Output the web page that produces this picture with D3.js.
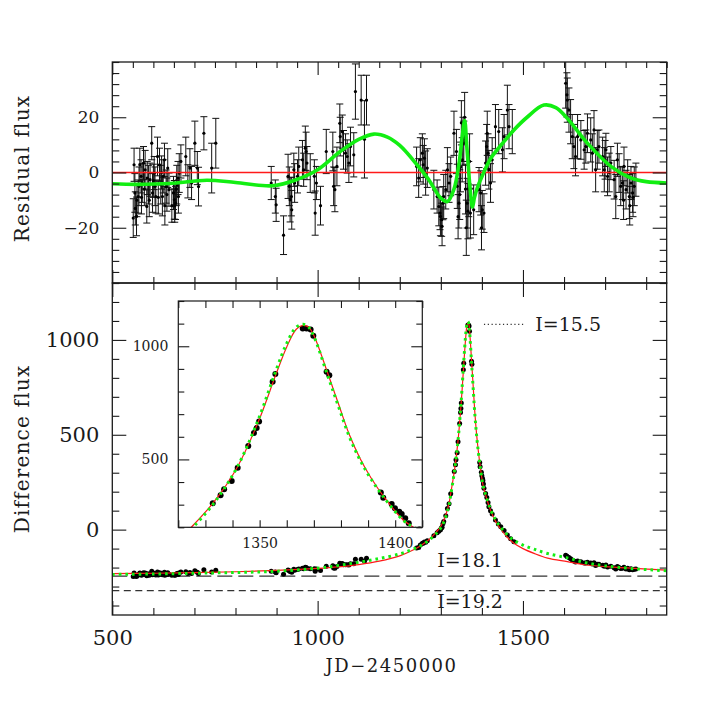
<!DOCTYPE html>
<html><head><meta charset="utf-8">
<script src="https://cdn.jsdelivr.net/npm/d3@7"></script>
<style>
body{margin:0;background:#fff}
svg text{font-family:"DejaVu Serif",serif;fill:#1a1a1a}
</style>
</head><body>
<svg id="chart" width="727" height="727"></svg>
<script>
// ---------------- DATA ----------------
// Residual flux observations: [JD-2450000, residual, error]
const residuals = [
[551,-16.5,7],[553,2.8,6],[555,-7.4,7],[556,-13,6],[559,-15.9,7],[560,-10,6],[563,-8.7,6],[565,-5,7],[567,2.8,6],[570,-1.4,6],
[571,-9,6],[573,-3.8,7],[576,3.4,6],[578,-6,6],[580,1.0,7],[584,-12.3,6],[585,-2,6],[588,-4.4,7],[590,-10,6],[592,-2.6,6],
[596,10.6,6],[598,-7.4,7],[600,-3,6],[602,-0.2,6],[604,-5,7],[606,-8.7,6],[610,5.8,7],[612,-9,6],[615,2.8,6],[618,-4.4,7],
[620,0,6],[622,-8.7,7],[624,-1.4,6],[627,4.6,6],[628,-12,7],[631,-5.1,6],[633,-8,6],[635,1.6,7],[638,-6.2,6],[645,-12,6],
[649,-7.4,6],[651,-9.9,7],[652,-12,6],[654,-11,6],[656,-6,6],[657,-4.4,7],[660,-2,6],[661,-8.7,6],[663,-0.2,7],[667,4.0,6],
[679,5.8,7],[684,-3.2,6],[689,1.6,7],[693,-3.8,6],[701,10.6,8],[707,1.6,6],[710,-5.1,7],[723,14.2,6],[742,1.6,9],[752,10.6,9],
[887,-3.8,6],[897,-8.7,6],[899,-11.7,6],[917,-22.7,7],[928,-1.4,8],[931,-5,7],[933,-9.9,8],[936,-8.7,7],[937,-13.5,7],[942,1,6],
[944,-3.8,7],[951,-1.4,6],[954,2.2,7],[963,4.6,7],[966,1,6],[970,8.8,8],[972,7.6,7],[974,3.4,6],[982,-0.2,7],[992,-1.4,6],
[994,-14.7,8],[997,-3.8,6],[1007,-12,7],[1021,7.6,8],[1037,7.6,7],[1039,-5,7],[1042,-6.2,8],[1047,2.2,7],[1054,17.8,7],[1055,13,7],
[1060,14.8,6],[1063,8.2,7],[1068,7,7],[1072,5.8,6],[1076,3.4,7],[1080,9.4,7],[1088,6.4,8],[1092,29.3,10],[1106,26.2,9],[1114,12,14],[1119,26.2,9],
[1241,2.2,7],[1246,-2,7],[1250,4.6,8],[1255,7,7],[1257,2.8,7],[1260,5.2,7],[1263,-0.2,8],[1267,1.6,7],[1283,-6.2,7],[1291,-8.7,6],
[1295,-12.3,7],[1298,-14.7,6],[1299,-15.9,7],[1302,-17.1,6],[1303,-19.5,7],[1305,-11.1,6],[1307,-8.7,8],[1312,-6.2,7],[1316,1,8],[1320,-3.8,7],
[1324,-1.4,7],[1332,14.2,8],[1338,7.6,8],[1340,-5,8],[1342,-16,8],[1344,-11.1,9],[1346,-8,9],[1348,2,9],[1350,18,8],[1352,4.6,8],
[1354,12,8],[1356,10.6,8],[1358,20,9],[1360,-6,9],[1362,-20,10],[1364,-11.1,9],[1366,-14,10],[1368,-6,10],[1370,4,10],[1372,-14.7,9],
[1380,-13.5,9],[1393,-6.2,8],[1397,-7.4,8],[1399,-20,8],[1401,-13.5,7],[1405,-14.7,7],[1409,3.4,8],[1411.5,9.4,8],[1413,14.2,8],[1415,7,7],
[1417,1,7],[1421,-3.8,7],[1425,4.6,8],[1433,16.6,8],[1441,14.8,8],[1450,8.2,8],[1454,13,8],[1462,22.6,9],[1466,16.6,8],[1474,14.8,8],
[1604,32.3,9],[1607,28.1,8],[1608,26.2,8],[1612,22.6,8],[1616,18.4,8],[1620,13,8],[1624,9.4,8],[1628,5.8,7],[1633,13,8],[1641,11.8,7],
[1649,8.2,7],[1653,9.4,6],[1657,14.2,7],[1665,11.8,8],[1669,7,7],[1673,15.4,7],[1677,1,8],[1681,8.2,7],[1685,9.4,6],[1694,5.8,7],
[1698,1,8],[1700,4.6,7],[1702,8.2,6],[1706,-1.4,7],[1710,0,7],[1714,3.4,6],[1722,-2.6,7],[1726,-8.7,8],[1730,4.6,6],[1734,-0.2,7],
[1738,-5,7],[1742,-3.8,6],[1745,-10,7],[1746,2.2,7],[1751,-6.2,7],[1755,-1.4,6],[1759,-8.7,8],[1760,-12,7],[1763,-3.8,6],[1767,-7.4,7],
[1768,-9,7],[1771,-5,7],[1775,-2.6,6]
];

// Difference flux observations: [JD-2450000, flux]
const observations = [
[551,-247.5],[553,-228],[555,-238],[556,-244],[559,-247],[560,-241],[563,-239],[565,-236],[567,-228],[570,-232],
[571,-240],[573,-234],[576,-227],[578,-236],[580,-229],[584,-243],[585,-232],[588,-235],[590,-240],[592,-233],
[596,-219.5],[598,-237.5],[600,-233],[602,-230],[604,-235],[606,-238.5],[610,-224],[612,-238.6],[615,-226.7],[618,-234],
[620,-229.4],[622,-238],[624,-230.7],[627,-224.6],[628,-241],[631,-234],[633,-237],[635,-227.4],[638,-235],[645,-240.7],
[649,-236],[651,-238.4],[652,-240.4],[654,-239.4],[656,-234.3],[657,-232.7],[660,-230.2],[661,-237],[663,-228.3],[667,-224],
[679,-221.8],[684,-230.7],[689,-225.7],[693,-231],[701,-216.4],[707,-225],[710,-231.6],[723,-211.7],[742,-223.3],[752,-213.8],
[887,-219.7],[897,-223.9],[899,-226.8],[917,-235.8],[928,-213.3],[931,-216.6],[933,-221.3],[936,-219.7],[937,-224.4],[942,-209.4],
[944,-214],[951,-210.8],[954,-206.9],[963,-203.5],[966,-206.7],[970,-198.5],[972,-199.5],[974,-203.5],[982,-206.2],[992,-206.3],
[994,-219.4],[997,-208.1],[1007,-214.9],[1021,-193],[1037,-190.5],[1039,-202.8],[1042,-203.5],[1047,-194.3],[1054,-177.2],[1055,-181.8],
[1060,-178.8],[1063,-184.7],[1068,-184.7],[1072,-184.9],[1076,-186.4],[1080,-179.4],[1088,-180.5],[1092,-156.6],[1106,-155.6],[1114,-167],[1119,-151],
[1241,-96.3],[1246,-94.8],[1250,-81.4],[1255,-71.3],[1257,-72.4],[1260,-65.3],[1263,-66.1],[1267,-58.1],[1283,-32],[1291,-15.9],
[1295,-8.3],[1298,-2.3],[1299,-0.7],[1302,10.3],[1303,12.6],[1305,30.4],[1307,42.2],[1312,73.8],[1316,111],[1320,136],[1324,188.6],
[1332.7,306],[1335.6,342],[1336.9,368],[1339.7,405],[1341.9,463],[1345.8,559],[1347.9,617],[1348.9,639],[1349.8,668],[1354.8,843],
[1355.8,877],[1365.9,1078],[1367.3,1078],[1368.8,1074],[1369.8,1046],[1374.7,887],[1375.7,872],[1394.7,354],[1395.6,331],[1398.7,303],
[1399.9,284],[1401.5,269],[1402.4,259],[1403.7,240],
[1405,218],[1409,190],[1412,170],[1415,143],[1417,121],[1421,100],[1425,82],[1433,51],[1440,30],[1446,15],[1454,-5],[1462,-28],[1470,-48],[1478,-64],
[1604,-135],[1607,-140.5],[1608,-142.8],[1612,-147.5],[1616,-153.6],[1620,-160.6],[1624,-165.7],[1628,-170.8],[1633,-165.5],[1641,-169.8],
[1649,-176.4],[1653,-176.2],[1657,-172.2],[1665,-176.2],[1669,-181.8],[1673,-174.2],[1677,-189.4],[1681,-183],[1685,-182.6],[1694,-188],
[1698,-193.6],[1702,-187.1],[1706,-197.2],[1714,-193.4],[1722,-200.4],[1726,-207],[1730,-194.2],[1734,-199.5],[1738,-204.8],[1742,-204.1],
[1746,-198.6],[1751,-207.7],[1755,-203.4],[1759,-211.2],[1763,-206.8],[1767,-210.9],[1771,-209],[1775,-207.1]
];

// Model curves: JD, red (solid) model, green (dotted) model
const modelJD    = [500,600,700,800,900,1000,1050,1100,1150,1200,1230,1250,1270,1290,1300,1310,1320,1324,1333,1341.5,1349.5,1356,1360,1363.5,1366,1368,1370,1375,1379,1383,1387,1391,1396,1403,1407,1420,1433,1446,1462,1478,1500,1527,1560,1608,1650,1700,1771,1850];
const modelRed   = [-232,-230,-227,-222,-215,-204,-196,-184,-166,-138,-110,-86,-55,-10,18,65,140,190,310,460,666,875,997,1075,1092,1085,1048,885,748,612,505,420,332,232,198,108,45,2,-40,-72,-100,-125,-150,-169,-185,-195,-204,-213];
const modelGreen = [-236,-234,-230,-226,-219.5,-203,-189,-172,-152.5,-128,-105,-85,-57.5,-17.5,8.7,54.7,130.5,181.5,304.5,461,676,892,1013,1084,1097,1085,1044,874,737,603,498,415,329.5,231,198.5,113,52.5,12,-27,-56.6,-81.5,-103,-126,-149,-173,-191,-206,-217];

// Residual of the green model relative to the red model (top panel)
const residModelJD  = [500,560,640,730,800,890,950,1000,1055,1100,1137,1170,1200,1242,1270,1300,1316,1332,1345,1352,1358,1363,1368,1373,1377,1382,1390,1400,1421,1450,1478,1510,1551,1580,1608,1657,1714,1763,1800,1850];
const residModelVal = [-4.1,-4.3,-4.0,-2.8,-3.6,-4.8,-2.5,1.0,7.6,12.0,13.9,12.8,9.8,2.8,-2.5,-9.3,-10.5,-6.0,4.0,13.0,18.8,10.0,0,-8.5,-12.5,-9,-5,-1.5,5.0,10.5,15.4,20,24.4,23.5,19.6,10.6,2.2,-2.0,-3.3,-3.8];

// Magnitude reference levels
const levelNames  = ["I=15.5","I=18.1","I=19.2"];
const levelFluxes = [1082,-245,-322];
const legendSpanJD = [1405,1502];

// Axis ranges / tick labels
const xDomain = [500,1850];
const xTickLabels = [500,1000,1500];
const topYDomain = [-40,40];
const topYLabels = [-20,0,20];
const botYDomain = [-450,1300];
const botYLabels = [0,500,1000];
const insetXDomain = [1320,1410];
const insetYDomain = [200,1200];
const insetXLabels = [1350,1400];
const insetYLabels = [500,1000];

// ---------------- LAYOUT ----------------
const svg = d3.select("#chart");
const L=112.3, R=666.7, T=62, M=283, B=615;
const IL=178.3, IR=422.3, IT=301, IB=527.3;

const x = d3.scaleLinear().domain(xDomain).range([L,R]);
const yT = d3.scaleLinear().domain(topYDomain).range([M,T]);
const yB = d3.scaleLinear().domain(botYDomain).range([B,M]);
const xi = d3.scaleLinear().domain(insetXDomain).range([IL,IR]);
const yi = d3.scaleLinear().domain(insetYDomain).range([IB,IT]);

const ink = "#1a1a1a";
const RED = "#ff1a1a";
const GREEN = "#12ee12";

const defs = svg.append("defs");
defs.append("clipPath").attr("id","clipTop").append("rect").attr("x",L).attr("y",T).attr("width",R-L).attr("height",M-T);
defs.append("clipPath").attr("id","clipBot").append("rect").attr("x",L).attr("y",M).attr("width",R-L).attr("height",B-M);
defs.append("clipPath").attr("id","clipIn").append("rect").attr("x",IL).attr("y",IT).attr("width",IR-IL).attr("height",IB-IT);

function tickSet(g, axisFn, scale, vals, size){
  g.call(axisFn(scale).tickValues(vals).tickSize(size).tickFormat(""));
  g.select(".domain").remove();
  g.selectAll("line").attr("stroke",ink).attr("stroke-width",1.1);
}
function labelSet(g, axisFn, scale, vals, pad, fs){
  g.call(axisFn(scale).tickValues(vals).tickSize(0).tickPadding(pad).tickFormat(d3.format("d")));
  g.select(".domain").remove();
  g.attr("font-family",null).attr("font-size",null);
  g.selectAll("text").style("font-family",'"DejaVu Serif",serif').style("font-size",fs+"px").attr("fill",ink);
}

// ---------------- TOP PANEL ----------------
const gTop = svg.append("g").attr("clip-path","url(#clipTop)");
const eb = gTop.append("g").attr("stroke","#111").attr("stroke-width",1);
residuals.forEach(([j,r,e])=>{
  const cx = x(j);
  eb.append("line").attr("x1",cx).attr("x2",cx).attr("y1",yT(r-e)).attr("y2",yT(r+e));
  eb.append("line").attr("x1",cx-3.5).attr("x2",cx+3.5).attr("y1",yT(r-e)).attr("y2",yT(r-e));
  eb.append("line").attr("x1",cx-3.5).attr("x2",cx+3.5).attr("y1",yT(r+e)).attr("y2",yT(r+e));
});
gTop.append("g").selectAll("circle").data(residuals).join("circle")
  .attr("cx",d=>x(d[0])).attr("cy",d=>yT(d[1])).attr("r",1.6).attr("fill","#000");
gTop.append("line").attr("x1",x(xDomain[0])).attr("x2",x(xDomain[1])).attr("y1",yT(0)).attr("y2",yT(0))
  .attr("stroke",RED).attr("stroke-width",1.5);
const residLine = d3.line().x(d=>x(d[0])).y(d=>yT(d[1])).curve(d3.curveCatmullRom.alpha(0.5));
gTop.append("path").datum(residModelJD.map((j,i)=>[j,residModelVal[i]]))
  .attr("d",residLine).attr("fill","none").attr("stroke",GREEN).attr("stroke-width",3.6);

// ---------------- BOTTOM PANEL ----------------
const gBot = svg.append("g").attr("clip-path","url(#clipBot)");
// reference levels
gBot.append("line").attr("x1",x(xDomain[0])).attr("x2",x(xDomain[1])).attr("y1",yB(levelFluxes[1])).attr("y2",yB(levelFluxes[1]))
  .attr("stroke","#333").attr("stroke-width",1.2).attr("stroke-dasharray","15,6");
gBot.append("line").attr("x1",x(xDomain[0])).attr("x2",x(xDomain[1])).attr("y1",yB(levelFluxes[2])).attr("y2",yB(levelFluxes[2]))
  .attr("stroke","#333").attr("stroke-width",1.2).attr("stroke-dasharray","7,4.5");
gBot.append("line").attr("x1",x(legendSpanJD[0])).attr("x2",x(legendSpanJD[1])).attr("y1",yB(levelFluxes[0])).attr("y2",yB(levelFluxes[0]))
  .attr("stroke","#333").attr("stroke-width",1.2).attr("stroke-dasharray","1.2,2.6");

gBot.append("g").selectAll("circle").data(observations).join("circle")
  .attr("cx",d=>x(d[0])).attr("cy",d=>yB(d[1])).attr("r",2.5).attr("fill","#000");

const redPts = modelJD.map((j,i)=>[j,modelRed[i]]);
const grnPts = modelJD.map((j,i)=>[j,modelGreen[i]]);
const mainLine = d3.line().x(d=>x(d[0])).y(d=>yB(d[1])).curve(d3.curveCatmullRom.alpha(0.5));
gBot.append("path").datum(redPts).attr("d",mainLine).attr("fill","none").attr("stroke",RED).attr("stroke-width",1.2);
gBot.append("path").datum(grnPts).attr("d",mainLine).attr("fill","none").attr("stroke",GREEN).attr("stroke-width",3).attr("stroke-dasharray","2.6,4");

// level labels
const lbl = svg.append("g").style("font-size","19px");
lbl.append("text").attr("x",x(1530)).attr("y",yB(levelFluxes[0])).attr("dy","0.36em").text(levelNames[0]);
lbl.append("text").attr("x",x(1291)).attr("y",yB(levelFluxes[1])).attr("dy",-9.5).text(levelNames[1]);
lbl.append("text").attr("x",x(1291)).attr("y",yB(levelFluxes[2])).attr("dy",17.5).text(levelNames[2]);

// ---------------- INSET ----------------
svg.append("rect").attr("x",IL).attr("y",IT).attr("width",IR-IL).attr("height",IB-IT).attr("fill","#fff");
const gIn = svg.append("g").attr("clip-path","url(#clipIn)");
gIn.append("g").selectAll("circle").data(observations.filter(d=>d[0]>=1318&&d[0]<=1412)).join("circle")
  .attr("cx",d=>xi(d[0])).attr("cy",d=>yi(d[1])).attr("r",3).attr("fill","#000");
const inLine = d3.line().x(d=>xi(d[0])).y(d=>yi(d[1])).curve(d3.curveCatmullRom.alpha(0.5));
gIn.append("path").datum(redPts).attr("d",inLine).attr("fill","none").attr("stroke",RED).attr("stroke-width",1.2);
gIn.append("path").datum(grnPts).attr("d",inLine).attr("fill","none").attr("stroke",GREEN).attr("stroke-width",3).attr("stroke-dasharray","2.6,4");
svg.append("rect").attr("x",IL).attr("y",IT).attr("width",IR-IL).attr("height",IB-IT)
  .attr("fill","none").attr("stroke",ink).attr("stroke-width",1.2);

const inYt = d3.range(200,1201,100), inXt = d3.range(1320,1411,10);
tickSet(svg.append("g").attr("transform",`translate(${IL},0)`), d3.axisRight, yi, inYt.filter(v=>!insetYLabels.includes(v)), 6);
tickSet(svg.append("g").attr("transform",`translate(${IL},0)`), d3.axisRight, yi, insetYLabels, 11);
tickSet(svg.append("g").attr("transform",`translate(${IR},0)`), d3.axisLeft, yi, inYt.filter(v=>!insetYLabels.includes(v)), 6);
tickSet(svg.append("g").attr("transform",`translate(${IR},0)`), d3.axisLeft, yi, insetYLabels, 11);
tickSet(svg.append("g").attr("transform",`translate(0,${IB})`), d3.axisTop, xi, inXt, 7);
tickSet(svg.append("g").attr("transform",`translate(0,${IT})`), d3.axisBottom, xi, inXt, 7);
labelSet(svg.append("g").attr("transform",`translate(${IL},0)`), d3.axisLeft, yi, insetYLabels, 10, 14);
labelSet(svg.append("g").attr("transform",`translate(0,${IB})`), d3.axisBottom, xi, insetXLabels, 10.5, 14);

// ---------------- FRAMES & AXES ----------------
svg.append("rect").attr("x",L).attr("y",T).attr("width",R-L).attr("height",M-T).attr("fill","none").attr("stroke",ink).attr("stroke-width",1.3);
svg.append("rect").attr("x",L).attr("y",M).attr("width",R-L).attr("height",B-M).attr("fill","none").attr("stroke",ink).attr("stroke-width",1.3);

const x50 = d3.range(500,1851,50), x100 = d3.range(500,1851,100);
const minorOf = (arr, major) => arr.filter(v=>!major.includes(v));
// top panel
tickSet(svg.append("g").attr("transform",`translate(0,${T})`), d3.axisBottom, x, minorOf(x50,xTickLabels), 6);
tickSet(svg.append("g").attr("transform",`translate(0,${T})`), d3.axisBottom, x, xTickLabels, 13);
tickSet(svg.append("g").attr("transform",`translate(0,${M})`), d3.axisTop, x, minorOf(x100,xTickLabels), 6);
tickSet(svg.append("g").attr("transform",`translate(0,${M})`), d3.axisTop, x, xTickLabels, 13);
const yt4 = d3.range(-40,41,4);
tickSet(svg.append("g").attr("transform",`translate(${L},0)`), d3.axisRight, yT, minorOf(yt4,topYLabels), 7);
tickSet(svg.append("g").attr("transform",`translate(${L},0)`), d3.axisRight, yT, topYLabels, 14);
tickSet(svg.append("g").attr("transform",`translate(${R},0)`), d3.axisLeft, yT, minorOf(yt4,topYLabels), 7);
tickSet(svg.append("g").attr("transform",`translate(${R},0)`), d3.axisLeft, yT, topYLabels, 14);
labelSet(svg.append("g").attr("transform",`translate(${L},0)`), d3.axisLeft, yT, topYLabels, 13, 17);

// bottom panel
tickSet(svg.append("g").attr("transform",`translate(0,${M})`), d3.axisBottom, x, minorOf(x100,xTickLabels), 7);
tickSet(svg.append("g").attr("transform",`translate(0,${M})`), d3.axisBottom, x, xTickLabels, 14);
tickSet(svg.append("g").attr("transform",`translate(0,${B})`), d3.axisTop, x, minorOf(x100,xTickLabels), 7);
tickSet(svg.append("g").attr("transform",`translate(0,${B})`), d3.axisTop, x, xTickLabels, 14);
const yb100 = d3.range(-400,1301,100);
tickSet(svg.append("g").attr("transform",`translate(${L},0)`), d3.axisRight, yB, minorOf(yb100,botYLabels), 7);
tickSet(svg.append("g").attr("transform",`translate(${L},0)`), d3.axisRight, yB, botYLabels, 14);
tickSet(svg.append("g").attr("transform",`translate(${R},0)`), d3.axisLeft, yB, minorOf(yb100,botYLabels), 7);
tickSet(svg.append("g").attr("transform",`translate(${R},0)`), d3.axisLeft, yB, botYLabels, 14);
labelSet(svg.append("g").attr("transform",`translate(${L},0)`), d3.axisLeft, yB, botYLabels, 13, 21);
labelSet(svg.append("g").attr("transform",`translate(0,${B})`), d3.axisBottom, x, xTickLabels, 15, 21);

// axis titles
svg.append("text").attr("transform",`translate(29,${(T+M)/2 - 4}) rotate(-90)`).attr("text-anchor","middle")
  .style("font-size","20px").style("letter-spacing","1.2px").text("Residual flux");
svg.append("text").attr("transform",`translate(29,${yB(425)}) rotate(-90)`).attr("text-anchor","middle")
  .style("font-size","20px").style("letter-spacing","1.2px").text("Difference flux");
svg.append("text").attr("x",x(1180)).attr("y",672).attr("text-anchor","middle")
  .style("font-size","18px").style("letter-spacing","1.5px").text("JD\u22122450000");
</script>
</body></html>
